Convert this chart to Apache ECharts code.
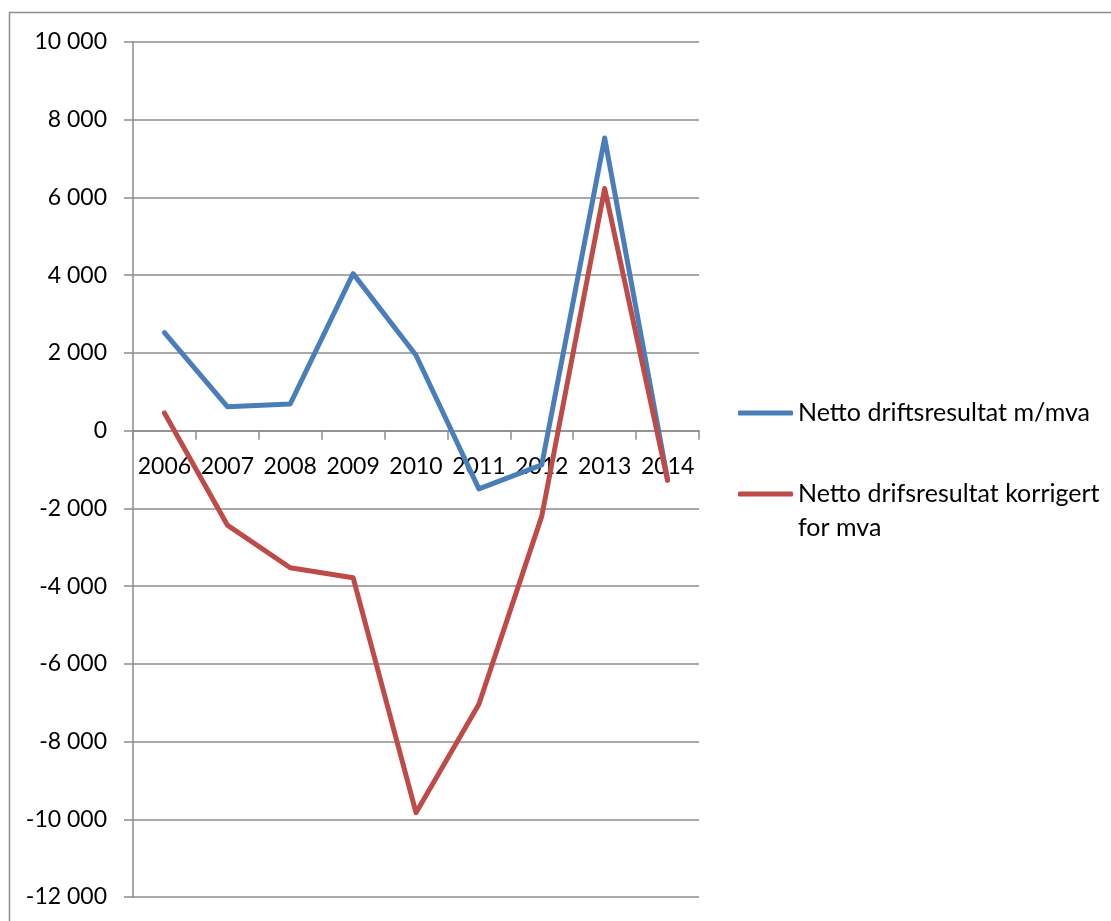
<!DOCTYPE html>
<html>
<head>
<meta charset="utf-8">
<script src="https://cdn.jsdelivr.net/npm/echarts@6/dist/echarts.min.js"></script>
<style>
  html, body { margin: 0; padding: 0; background: #ffffff; }
  #chart { width: 1111px; height: 921px; }
</style>
</head>
<body>
<div id="chart"></div>
<script>
// Årstall på kategoriaksen
const years = ['2006', '2007', '2008', '2009', '2010', '2011', '2012', '2013', '2014'];

// Netto driftsresultat med mva (1000 kr)
const nettoMedMva = [2520, 615, 685, 4040, 1940, -1500, -880, 7530, -1250];

// Netto driftsresultat korrigert for mva (1000 kr)
const nettoKorrigert = [455, -2430, -3527, -3784, -9830, -7040, -2200, 6230, -1280];

const seriesNames = ['Netto driftsresultat m/mva', 'Netto drifsresultat korrigert for mva'];

// Verdiakse
const yMin = -12000;
const yMax = 10000;
const yStep = 2000;

const FONT = 'Lato, "Open Sans", sans-serif';
const GRID_COLOR = '#8c8c8c';

const W = 1111, H = 921;
const gridBox = { left: 133, right: 412, top: 42, bottom: 24 };
const plotHeight = H - gridBox.top - gridBox.bottom;
// Årstallene står like under nullinjen
const zeroOffset = -plotHeight * (0 - yMin) / (yMax - yMin);

// Tusenskille med mellomrom: 10 000, -12 000
function fmt(v) {
  const s = Math.abs(v).toString().replace(/\B(?=(\d{3})+(?!\d))/g, ' ');
  return (v < 0 ? '-' : '') + s;
}

const legendText = { fontFamily: FONT, fontSize: 25, color: '#000000', lineHeight: 34 };

const chart = echarts.init(document.getElementById('chart'), null, { renderer: 'canvas' });

chart.setOption({
  backgroundColor: '#ffffff',
  animation: false,
  textStyle: { fontFamily: FONT },
  graphic: [
    {
      type: 'rect',
      shape: { x: 9.5, y: 12.5, width: 1200, height: 1000 },
      style: { fill: 'none', stroke: GRID_COLOR, lineWidth: 1.5 },
      silent: true
    }
  ],
  grid: {
    left: gridBox.left, right: gridBox.right, top: gridBox.top, bottom: gridBox.bottom,
    containLabel: false, outerBoundsMode: 'none'
  },
  legend: [
    {
      data: [seriesNames[0]],
      left: 738,
      top: 396,
      padding: 0,
      icon: 'roundRect',
      itemWidth: 55,
      itemHeight: 5,
      textStyle: legendText,
      selectedMode: false
    },
    {
      data: [seriesNames[1]],
      left: 738,
      top: 443,
      padding: 0,
      icon: 'roundRect',
      itemWidth: 55,
      itemHeight: 5,
      formatter: function () { return ' \nNetto drifsresultat korrigert\nfor mva'; },
      textStyle: legendText,
      selectedMode: false
    }
  ],
  xAxis: [
    {
      // akselinje og streker på null
      type: 'category',
      data: years,
      boundaryGap: true,
      axisLine: { show: true, onZero: true, lineStyle: { color: GRID_COLOR, width: 1.5 } },
      axisTick: { show: true, length: 9, inside: false, alignWithLabel: false, lineStyle: { color: GRID_COLOR, width: 1.5 } },
      axisLabel: { show: false },
      splitLine: { show: false }
    },
    {
      // årstallene
      type: 'category',
      data: years,
      boundaryGap: true,
      position: 'bottom',
      offset: zeroOffset,
      axisLine: { show: false, onZero: false },
      axisTick: { show: false },
      axisLabel: { color: '#000000', fontFamily: FONT, fontSize: 23, margin: 24, interval: 0 },
      splitLine: { show: false }
    }
  ],
  yAxis: {
    type: 'value',
    min: yMin,
    max: yMax,
    interval: yStep,
    axisLine: { show: true, lineStyle: { color: GRID_COLOR, width: 1.5 } },
    axisTick: { show: true, length: 9, inside: false, lineStyle: { color: GRID_COLOR, width: 1.5 } },
    axisLabel: { color: '#000000', fontFamily: FONT, fontSize: 23, margin: 26, formatter: fmt },
    splitLine: { show: true, lineStyle: { color: GRID_COLOR, width: 1.5 } }
  },
  series: [
    {
      name: seriesNames[0],
      type: 'line',
      xAxisIndex: 0,
      data: nettoMedMva,
      showSymbol: false,
      symbol: 'none',
      lineStyle: { color: '#4a7ebb', width: 5, cap: 'round', join: 'round' },
      itemStyle: { color: '#4a7ebb' },
      z: 3
    },
    {
      name: seriesNames[1],
      type: 'line',
      xAxisIndex: 0,
      data: nettoKorrigert,
      showSymbol: false,
      symbol: 'none',
      lineStyle: { color: '#be4b48', width: 5, cap: 'round', join: 'round' },
      itemStyle: { color: '#be4b48' },
      z: 4
    }
  ]
});
</script>
</body>
</html>
